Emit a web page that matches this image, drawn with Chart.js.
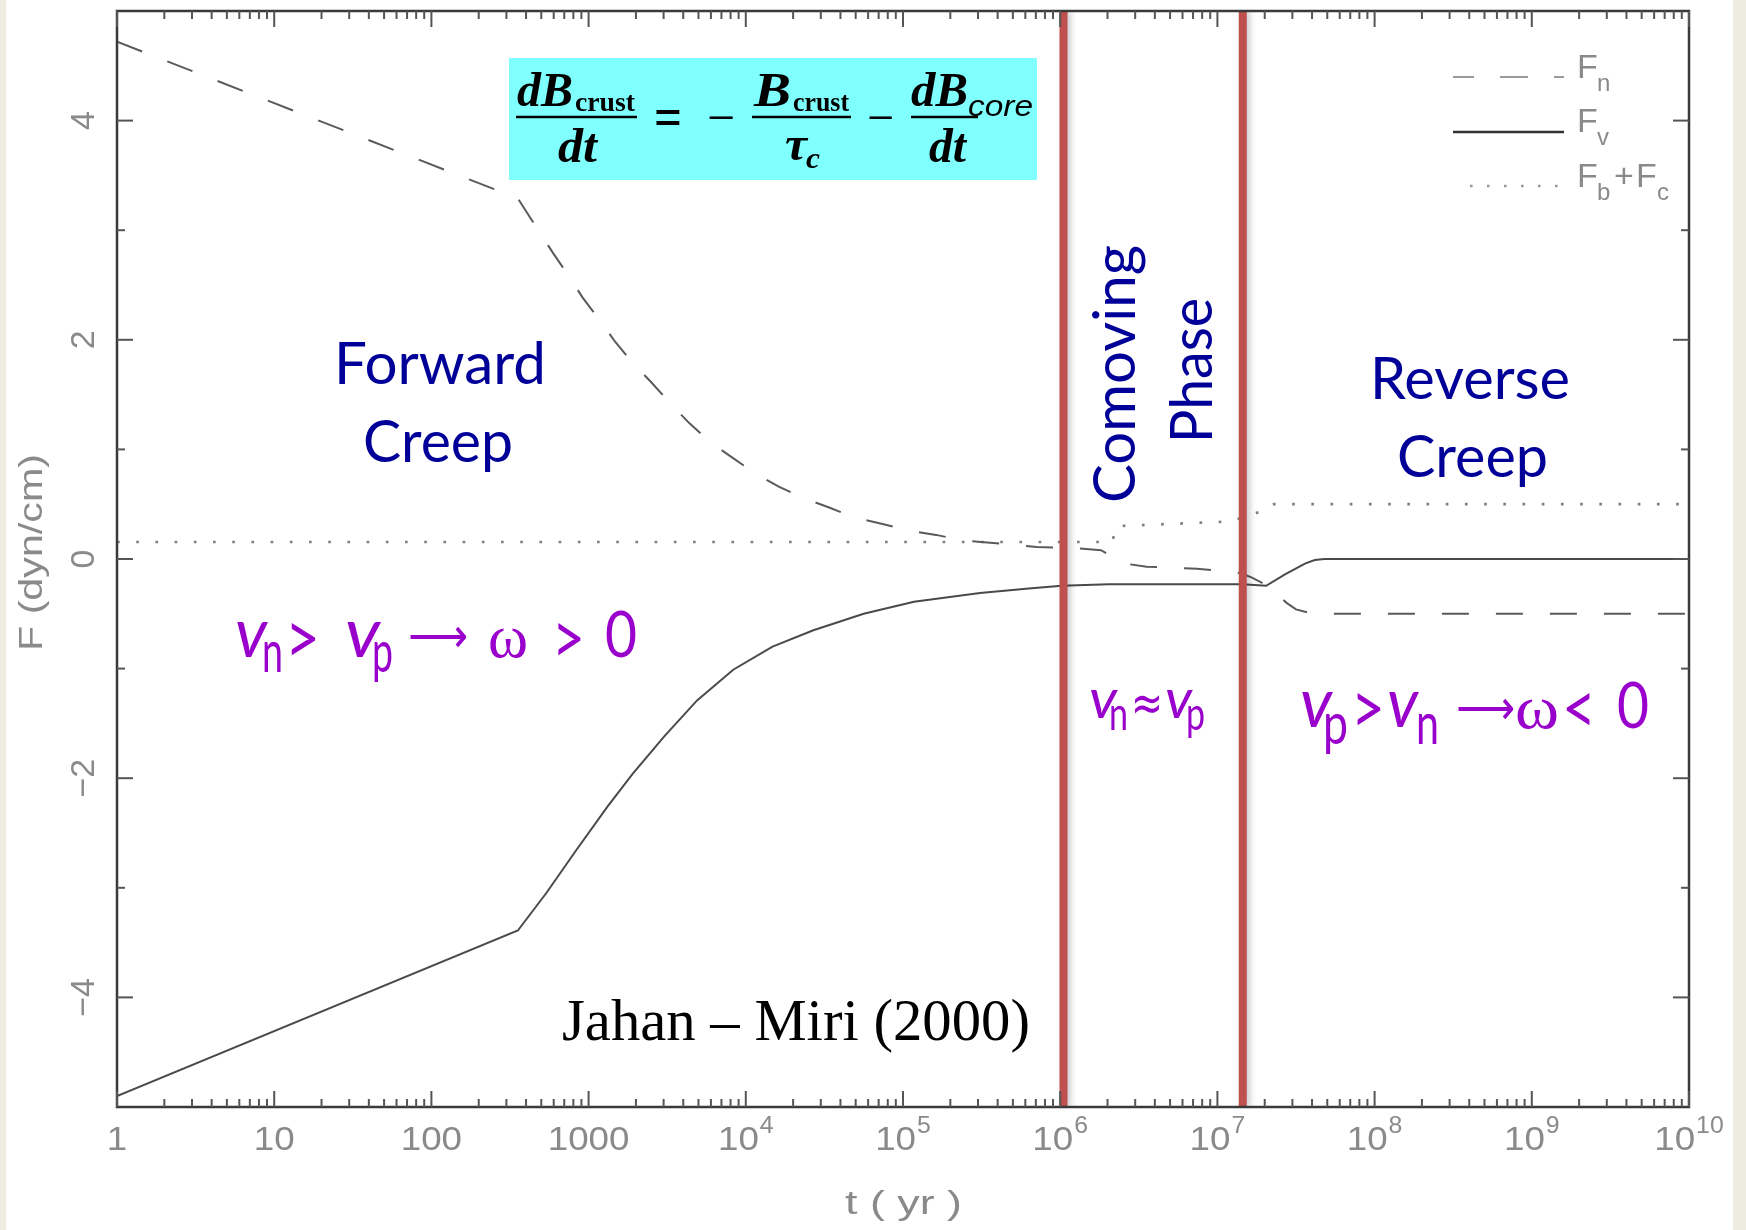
<!DOCTYPE html>
<html>
<head>
<meta charset="utf-8">
<title>Vortex creep forces, Jahan-Miri (2000)</title>
<script src="https://cdn.jsdelivr.net/npm/chart.js@4.4.1/dist/chart.umd.min.js"></script>
<style>
  html, body { margin: 0; padding: 0; background: #eeece1; }
  #wrap { width: 1746px; height: 1230px; }
</style>
</head>
<body>
<div id="wrap"><canvas id="forces" width="1746" height="1230"></canvas></div>
<script>
// values, time kept as log10(t / yr)
const fnLogT = [0, 2.55, 2.68, 2.77, 2.87, 2.96, 3.07, 3.17, 3.28, 3.40, 3.52, 3.64, 3.77, 3.91, 4.06, 4.21, 4.36, 4.53, 4.69, 4.87, 5.03, 5.21, 5.38, 5.62, 5.85, 6.09, 6.26, 6.40, 6.55, 6.71, 6.87, 7.06, 7.15, 7.22, 7.30, 7.37, 7.44, 7.50, 7.58, 7.68, 10]
const fnForce = [4.72, 3.29, 3.00, 2.80, 2.59, 2.39, 2.18, 1.98, 1.79, 1.61, 1.42, 1.24, 1.07, 0.93, 0.78, 0.66, 0.56, 0.47, 0.38, 0.32, 0.26, 0.22, 0.17, 0.14, 0.11, 0.10, 0.08, -0.04, -0.07, -0.08, -0.09, -0.11, -0.13, -0.17, -0.23, -0.31, -0.40, -0.46, -0.49, -0.50, -0.50]

const fvLogT = [0, 2.55, 2.73, 2.92, 3.12, 3.28, 3.48, 3.69, 3.92, 4.17, 4.43, 4.75, 5.07, 5.49, 5.80, 6.01, 6.31, 7.16, 7.31, 7.43, 7.56, 7.62, 7.68, 10]
const fvForce = [-4.90, -3.39, -3.05, -2.66, -2.26, -1.96, -1.62, -1.29, -1.01, -0.80, -0.65, -0.50, -0.39, -0.31, -0.27, -0.245, -0.23, -0.23, -0.245, -0.14, -0.04, -0.01, 0, 0]

const fbcLogT = [0, 6.33, 6.36, 6.70, 7.05, 7.14, 7.27, 7.36, 10]
const fbcForce = [0.155, 0.155, 0.30, 0.32, 0.34, 0.37, 0.43, 0.50, 0.50]

// comoving phase boundaries (yr)
const phaseEdges = [1.05e6, 1.45e7]

const timeRange = [1, 1e10]
const forceRange = [-5, 5]
const xDecades = [0, 1, 2, 3, 4, 5, 6, 7, 8, 9, 10]
const xTickBase = ['1', '10', '100', '1000', '10', '10', '10', '10', '10', '10', '10']
const xTickExp = ['', '', '', '', '4', '5', '6', '7', '8', '9', '10']
const yMajor = [-4, -2, 0, 2, 4]
const yTickLabels = ['\u22124', '\u22122', '0', '2', '4']
const yMinor = [-3, -1, 1, 3]

const toPoints = (logT, f) => logT.map((u, i) => ({ x: Math.pow(10, u), y: f[i] }))

const ctx = document.getElementById('forces').getContext('2d')

function fitText(c, str, font, x, y, w, color) {
    c.save()
    c.font = font
    c.fillStyle = color
    c.textAlign = 'left'
    c.textBaseline = 'alphabetic'
    const m = c.measureText(str).width
    c.translate(x, y)
    if (w) c.scale(w / m, 1)
    c.fillText(str, 0, 0)
    c.restore()
}

function fitRotated(c, str, font, x, y, w, color) {
    // reads bottom to top, baseline on the right
    c.save()
    c.translate(x, y)
    c.rotate(-Math.PI / 2)
    fitText(c, str, font, 0, 0, w, color)
    c.restore()
}

function seg(c, x1, y1, x2, y2) {
    c.beginPath()
    c.moveTo(x1, y1)
    c.lineTo(x2, y2)
    c.stroke()
}

const pageDecor = {
    id: 'pageDecor',
    beforeDraw(chart) {
        const c = chart.ctx
        c.save()
        c.fillStyle = '#eeece1'
        c.fillRect(0, 0, chart.width, chart.height)
        c.fillStyle = '#ffffff'
        c.fillRect(6, 0, 1727, chart.height)
        c.restore()
    },
    beforeDatasetDraw(chart, args) {
        if (chart.data.datasets[args.index].shadow) {
            const c = chart.ctx
            c.save()
            c.shadowColor = 'rgba(0,0,0,0.22)'
            c.shadowBlur = 6
            c.shadowOffsetX = 3
        }
    },
    afterDatasetDraw(chart, args) {
        if (chart.data.datasets[args.index].shadow) chart.ctx.restore()
    },
    afterDraw(chart) {
        const c = chart.ctx
        const a = chart.chartArea
        const xs = chart.scales.x
        const ys = chart.scales.y
        c.save()

        // frame
        c.strokeStyle = '#3a3a3a'
        c.lineWidth = 2.5
        c.strokeRect(a.left, a.top, a.right - a.left, a.bottom - a.top)

        // inward ticks on all four sides
        c.strokeStyle = '#555'
        c.lineWidth = 2
        xDecades.forEach(n => {
            const px = xs.getPixelForValue(Math.pow(10, n))
            seg(c, px, a.bottom, px, a.bottom - 16)
            seg(c, px, a.top, px, a.top + 16)
            if (n < 10) {
                for (let k = 2; k <= 9; k++) {
                    const p = xs.getPixelForValue(k * Math.pow(10, n))
                    seg(c, p, a.bottom, p, a.bottom - 8)
                    seg(c, p, a.top, p, a.top + 8)
                }
            }
        })
        yMajor.forEach(v => {
            const py = ys.getPixelForValue(v)
            seg(c, a.left, py, a.left + 16, py)
            seg(c, a.right, py, a.right - 16, py)
        })
        yMinor.forEach(v => {
            const py = ys.getPixelForValue(v)
            seg(c, a.left, py, a.left + 8, py)
            seg(c, a.right, py, a.right - 8, py)
        })

        // x tick labels
        const grey = '#8a8a8a'
        c.fillStyle = grey
        c.textBaseline = 'alphabetic'
        xDecades.forEach((n, i) => {
            const px = xs.getPixelForValue(Math.pow(10, n))
            c.font = '34px "Liberation Sans"'
            const wb = c.measureText(xTickBase[i]).width * 1.08
            let we = 0
            if (xTickExp[i]) {
                c.font = '23px "Liberation Sans"'
                we = c.measureText(xTickExp[i]).width * 1.08 + 1
            }
            const start = px - (wb + we) / 2
            fitText(c, xTickBase[i], '34px "Liberation Sans"', start, 1150, wb, grey)
            if (xTickExp[i]) fitText(c, xTickExp[i], '23px "Liberation Sans"', start + wb + 1, 1133, we - 1, grey)
        })
        // y tick labels, rotated
        yMajor.forEach((v, i) => {
            const py = ys.getPixelForValue(v)
            c.save()
            c.translate(94, py)
            c.rotate(-Math.PI / 2)
            c.font = '34px "Liberation Sans"'
            c.textAlign = 'center'
            c.fillStyle = grey
            c.fillText(yTickLabels[i], 0, 0)
            c.restore()
        })
        // axis titles
        fitText(c, 't ( yr )', '34px "Liberation Sans"', (a.left + a.right) / 2 - 58, 1214, 117, grey)
        fitRotated(c, 'F (dyn/cm)', '34px "Liberation Sans"', 42, 651, 197, grey)

        // legend
        c.lineWidth = 2.2
        c.strokeStyle = '#9a9a9a'
        c.setLineDash([28, 26])
        c.lineDashOffset = 7
        seg(c, 1453, 77, 1564, 77)
        c.setLineDash([])
        c.strokeStyle = '#333'
        c.lineWidth = 2.5
        seg(c, 1453, 132, 1564, 132)
        c.strokeStyle = '#999'
        c.lineWidth = 2.6
        c.setLineDash([2.6, 14.4])
        seg(c, 1460, 186, 1564, 186)
        c.setLineDash([])
        const lf = '34px "Liberation Sans"'
        const ls = '24px "Liberation Sans"'
        fitText(c, 'F', lf, 1577, 78, 0, grey)
        fitText(c, 'n', ls, 1597, 91, 0, grey)
        fitText(c, 'F', lf, 1577, 132, 0, grey)
        fitText(c, 'v', ls, 1597, 145, 0, grey)
        fitText(c, 'F', lf, 1577, 187, 0, grey)
        fitText(c, 'b', ls, 1597, 200, 0, grey)
        fitText(c, '+', lf, 1614, 187, 0, grey)
        fitText(c, 'F', lf, 1636, 187, 0, grey)
        fitText(c, 'c', ls, 1657, 200, 0, grey)

        // equation box
        c.fillStyle = '#80ffff'
        c.fillRect(509, 58, 528, 122)
        const ink = '#000'
        const bi = 'bold italic 48px "Liberation Serif"'
        const sb = 'bold 28px "Liberation Serif"'
        c.strokeStyle = ink
        c.lineWidth = 2.5
        fitText(c, 'dB', bi, 517, 106, 56, ink)
        fitText(c, 'crust', sb, 575, 111, 60, ink)
        seg(c, 516, 117, 637, 117)
        fitText(c, 'dt', bi, 558, 162, 39, ink)
        fitText(c, '=', 'bold 56px "Liberation Serif"', 654, 136, 28, ink)
        fitText(c, '\u2212', '52px "Liberation Serif"', 707, 135, 28, ink)
        fitText(c, 'B', bi, 754, 106, 37, ink)
        fitText(c, 'crust', sb, 793, 111, 56, ink)
        seg(c, 752, 117, 851, 117)
        fitText(c, '\u03c4', bi, 785, 160, 22, ink)
        fitText(c, 'c', 'bold italic 30px "Liberation Serif"', 806, 168, 14, ink)
        fitText(c, '\u2212', '52px "Liberation Serif"', 867, 135, 27, ink)
        fitText(c, 'dB', bi, 911, 106, 57, ink)
        fitText(c, 'core', 'italic 30px "Liberation Sans"', 968, 116, 65, ink)
        seg(c, 911, 117, 978, 117)
        fitText(c, 'dt', bi, 929, 162, 37, ink)

        fitText(c, 'Jahan \u2013 Miri (2000)', '59px "Liberation Serif"', 562, 1040, 468, ink)

        // regime names
        const navy = '#000099'
        const big = '58px Lato'
        fitText(c, 'Forward', big, 334, 384, 212, navy)
        fitText(c, 'Creep', big, 363, 462, 150, navy)
        fitText(c, 'Reverse', big, 1370, 399, 200, navy)
        fitText(c, 'Creep', big, 1397, 477, 151, navy)
        fitRotated(c, 'Comoving', big, 1135, 503, 258, navy)
        fitRotated(c, 'Phase', big, 1212, 443, 145, navy)

        // velocity relations
        const pur = '#9900cc'
        const vi = 'italic 68px Lato'
        const sub = '58px Lato'
        const op = '74px Lato'
        const arrow = '48px "DejaVu Sans"'
        const om = '62px "Liberation Serif"'
        fitText(c, 'v', vi, 235, 657, 32, pur)
        fitText(c, 'n', sub, 262, 672, 21, pur)
        fitText(c, '>', op, 285, 664, 35, pur)
        fitText(c, 'v', vi, 345, 657, 35, pur)
        fitText(c, 'p', sub, 372, 672, 21, pur)
        fitText(c, '\u27f6', arrow, 408, 652, 60, pur)
        fitText(c, '\u03c9', om, 488, 657, 40, pur)
        fitText(c, '>', op, 552, 664, 33, pur)
        fitText(c, '0', '64px Lato', 605, 657, 32, pur)

        fitText(c, 'v', 'italic 54px Lato', 1089, 718, 28, pur)
        fitText(c, 'n', '46px Lato', 1109, 730, 19, pur)
        fitText(c, '\u2248', '50px "DejaVu Sans"', 1131, 720, 32, pur)
        fitText(c, 'v', 'italic 54px Lato', 1165, 718, 27, pur)
        fitText(c, 'p', '46px Lato', 1186, 730, 19, pur)

        fitText(c, 'v', vi, 1300, 727, 32, pur)
        fitText(c, 'p', sub, 1323, 744, 25, pur)
        fitText(c, '>', op, 1351, 734, 34, pur)
        fitText(c, 'v', vi, 1387, 727, 31, pur)
        fitText(c, 'n', sub, 1416, 744, 23, pur)
        fitText(c, '\u27f6', arrow, 1456, 724, 59, pur)
        fitText(c, '\u03c9', om, 1515, 728, 44, pur)
        fitText(c, '<', op, 1562, 734, 34, pur)
        fitText(c, '0', '64px Lato', 1617, 728, 32, pur)

        c.restore()
    }
}

const phaseLine = (t) => ({
    label: 'phase edge',
    data: [{ x: t, y: forceRange[0] }, { x: t, y: forceRange[1] }],
    showLine: true,
    borderColor: '#c0504d',
    borderWidth: 8,
    shadow: true,
    order: 0
})

new Chart(ctx, {
    type: 'scatter',
    data: {
        datasets: [
            phaseLine(phaseEdges[0]),
            phaseLine(phaseEdges[1]),
            {
                label: 'Fn',
                data: toPoints(fnLogT, fnForce),
                showLine: true,
                borderColor: '#5a5a5a',
                borderWidth: 2,
                borderDash: [27, 27],
                order: 1
            },
            {
                label: 'Fv',
                data: toPoints(fvLogT, fvForce),
                showLine: true,
                borderColor: '#4a4a4a',
                borderWidth: 2,
                order: 1
            },
            {
                label: 'Fb+Fc',
                data: toPoints(fbcLogT, fbcForce),
                showLine: true,
                borderColor: '#808080',
                borderWidth: 2.7,
                borderDash: [2.7, 16.5],
                order: 1
            }
        ]
    },
    options: {
        responsive: false,
        animation: false,
        devicePixelRatio: 1,
        layout: { padding: { left: 117, right: 57, top: 11, bottom: 123 } },
        elements: { point: { radius: 0 }, line: { tension: 0 } },
        plugins: { legend: { display: false }, tooltip: { enabled: false } },
        scales: {
            x: { type: 'logarithmic', min: timeRange[0], max: timeRange[1], display: false },
            y: { type: 'linear', min: forceRange[0], max: forceRange[1], display: false }
        }
    },
    plugins: [pageDecor]
})
</script>
</body>
</html>
